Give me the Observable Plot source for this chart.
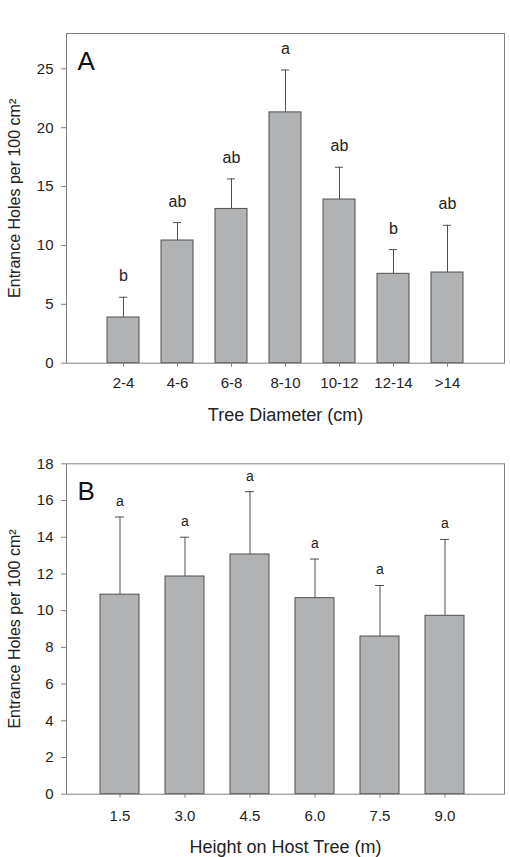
<!DOCTYPE html>
<html>
<head>
<meta charset="utf-8">
<script src="https://cdn.jsdelivr.net/npm/d3@7"></script>
<script src="https://cdn.jsdelivr.net/npm/@observablehq/plot@0.6"></script>
<style>
  html, body { margin: 0; padding: 0; background: #fff; }
  #page { position: relative; width: 510px; height: 857px; overflow: hidden; font-family: "Liberation Sans", Arial, sans-serif; }
  #pageno { position: absolute; top: -6px; right: 7px; font-size: 15px; line-height: 15px; color: #333; }
  #chartA { position: absolute; left: 0; top: 0; }
  #chartB { position: absolute; left: 0; top: 440px; }
</style>
</head>
<body>
<div id="page">
  <div id="pageno">233</div>
  <div id="chartA"></div>
  <div id="chartB"></div>
</div>
<script>
// Panel A: tree diameter classes
const diameterClasses = ["2-4", "4-6", "6-8", "8-10", "10-12", "12-14", ">14"];
const diameterMeans = [3.88, 10.42, 13.1, 21.3, 13.9, 7.59, 7.7];
const diameterSE = [1.72, 1.52, 2.55, 3.6, 2.74, 2.06, 4.01];
const diameterLetters = ["b", "ab", "ab", "a", "ab", "b", "ab"];
const diameterTicks = [0, 5, 10, 15, 20, 25];

// Panel B: height on host tree
const heightClasses = ["1.5", "3.0", "4.5", "6.0", "7.5", "9.0"];
const heightMeans = [10.87, 11.86, 13.06, 10.68, 8.59, 9.72];
const heightSE = [4.23, 2.14, 3.42, 2.13, 2.78, 4.16];
const heightLetters = ["a", "a", "a", "a", "a", "a"];
const heightTicks = [0, 2, 4, 6, 8, 10, 12, 14, 16, 18];

const yTitle = "Entrance Holes per 100 cm²";

const FONT = "'Liberation Sans', Arial, sans-serif";
const BAR_FILL = "#b1b2b4";
const BAR_STROKE = "#505050";
const AXIS_GRAY = "#808080";
const TEXT = "#222222";

function panel({classes, means, se, letters, ticks, yMax, height, marginTop, marginBottom,
                pInner, pOuter, align, capInset, letterSize, letterDy, panelLabel, xTitle, xTitleDy, xTickPad}) {
  const data = classes.map((c, i) => ({cls: c, mean: means[i], se: se[i], letter: letters[i]}));
  return Plot.plot({
    width: 510,
    height,
    marginTop,
    marginBottom,
    marginLeft: 66,
    marginRight: 6,
    style: {fontFamily: FONT, fontSize: "15px", color: TEXT, background: "white"},
    x: {type: "band", domain: classes, paddingInner: pInner, paddingOuter: pOuter, align},
    y: {domain: [0, yMax]},
    marks: [
      Plot.ruleX(data, {x: "cls", y1: "mean", y2: d => d.mean + d.se, stroke: BAR_STROKE, strokeWidth: 1}),
      Plot.tickY(data, {x: "cls", y: d => d.mean + d.se, stroke: BAR_STROKE, strokeWidth: 1, insetLeft: capInset, insetRight: capInset}),
      Plot.barY(data, {x: "cls", y: "mean", fill: BAR_FILL, stroke: BAR_STROKE, strokeWidth: 1}),
      Plot.text(data, {x: "cls", y: d => d.mean + d.se, text: "letter", dy: letterDy, lineAnchor: "bottom", fontSize: letterSize, fill: TEXT}),
      Plot.frame({stroke: AXIS_GRAY, strokeWidth: 1}),
      Plot.axisY({ticks, tickSize: 5, tickPadding: 8, stroke: AXIS_GRAY, fill: TEXT, label: null, fontSize: 15}),
      Plot.axisX({tickSize: 4, tickPadding: xTickPad, stroke: AXIS_GRAY, fill: TEXT, label: null, fontSize: 15}),
      Plot.text([panelLabel], {frameAnchor: "top-left", dx: 11, dy: 36, lineAnchor: "bottom", textAnchor: "start", fontSize: 26, fill: "#111", text: d => d}),
      Plot.text([yTitle], {frameAnchor: "left", dx: -52, rotate: -90, textAnchor: "middle", lineAnchor: "middle", fontSize: 16, fill: TEXT, text: d => d}),
      Plot.text([xTitle], {frameAnchor: "bottom", dy: xTitleDy, lineAnchor: "bottom", textAnchor: "middle", fontSize: 18, fill: TEXT, text: d => d})
    ]
  });
}

document.getElementById("chartA").append(panel({
  classes: diameterClasses, means: diameterMeans, se: diameterSE, letters: diameterLetters,
  ticks: diameterTicks, yMax: 28, height: 440, marginTop: 33, marginBottom: 77.3,
  pInner: 0.4, pOuter: 0.7, align: 0.5, capInset: 12, letterSize: 16, letterDy: -16,
  panelLabel: "A", xTitle: "Tree Diameter (cm)", xTitleDy: 58, xTickPad: 10
}));

document.getElementById("chartB").append(panel({
  classes: heightClasses, means: heightMeans, se: heightSE, letters: heightLetters,
  ticks: heightTicks, yMax: 18, height: 417, marginTop: 23.3, marginBottom: 63.3,
  pInner: 0.4, pOuter: 0.549, align: 0.46, capInset: 15, letterSize: 14, letterDy: -11,
  panelLabel: "B", xTitle: "Height on Host Tree (m)", xTitleDy: 59, xTickPad: 12
}));
</script>
</body>
</html>
